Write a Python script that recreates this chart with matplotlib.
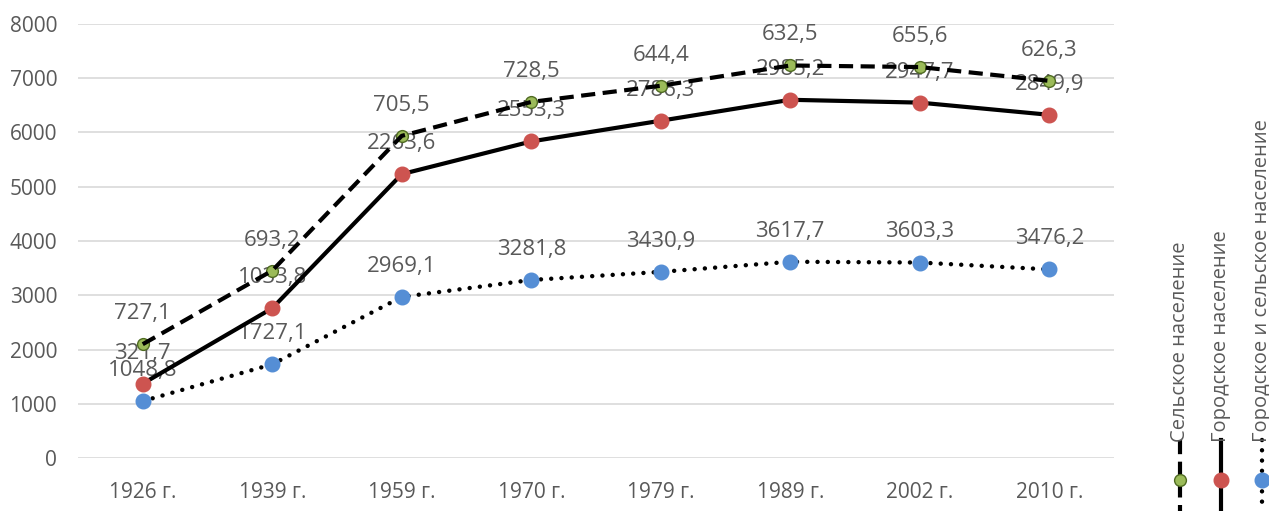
import numpy as np
import matplotlib
matplotlib.use("Agg")
import matplotlib.pyplot as plt
from matplotlib.lines import Line2D

# stacked line chart: each series is drawn on top of the previous one
years = ["1926 г.", "1939 г.", "1959 г.", "1970 г.", "1979 г.", "1989 г.", "2002 г.", "2010 г."]
base = [1048.8, 1727.1, 2969.1, 3281.8, 3430.9, 3617.7, 3603.3, 3476.2]
urban = [321.7, 1033.8, 2263.6, 2553.3, 2786.3, 2985.2, 2947.7, 2849.9]
rural = [727.1, 693.2, 705.5, 728.5, 644.4, 632.5, 655.6, 626.3]
names = ["Сельское население", "Городское население", "Городское и сельское население"]

plt.rcParams["font.family"] = ["Open Sans", "DejaVu Sans"]
gray = "#595959"

fig = plt.figure(figsize=(12.69, 5.11), dpi=100)
ax = fig.add_axes([78 / 1269, 53 / 511, (1114 - 78) / 1269, (458 - 24) / 511])

x = np.arange(len(years))
s1 = np.array(base)
s2 = s1 + np.array(urban)
s3 = s2 + np.array(rural)

dotted = (0, (0.01, 2.3))
dashed = (0, (3.4, 1.8))

ax.plot(x, s1, color="black", lw=3.2, linestyle=dotted, dash_capstyle="round", zorder=3)
ax.plot(x, s1, linestyle="none", marker="o", ms=10.5, mfc="#558ED5", mec="#558ED5", zorder=4)
ax.plot(x, s2, color="black", lw=3, zorder=3)
ax.plot(x, s2, linestyle="none", marker="o", ms=10.5, mfc="#CD5450", mec="#CD5450", zorder=4)
ax.plot(x, s3, linestyle="none", marker="o", ms=8.5, mfc="#9BBB59", mec="#4f6b22", mew=1, zorder=3)
ax.plot(x, s3, color="black", lw=3, linestyle=dashed, dash_capstyle="butt", zorder=4)

for tops, vals in [(s1, base), (s2, urban), (s3, rural)]:
    for xi, yi, v in zip(x, tops, vals):
        ax.annotate(f"{v:.1f}".replace(".", ","), (xi, yi), xytext=(0, 22),
                    textcoords="offset points", ha="center", va="center",
                    fontsize=16, color=gray, zorder=2)

ax.set_xlim(-0.5, len(years) - 0.5)
ax.set_ylim(0, 8000)
ax.set_yticks(np.arange(0, 8001, 1000))
ax.set_xticks(x)
ax.set_xticklabels(years)
ax.tick_params(axis="both", length=0, colors=gray, labelsize=15)
ax.tick_params(axis="x", pad=17)
ax.tick_params(axis="y", pad=15)
ax.grid(axis="y", color="#d9d9d9", lw=1.2)
ax.set_axisbelow(True)
for sp in ax.spines.values():
    sp.set_visible(False)

# vertical legend on the right
leg_x = [1180, 1221, 1262]
leg_styles = [
    dict(color="black", lw=3, linestyle=dashed, dash_capstyle="butt"),
    dict(color="black", lw=3),
    dict(color="black", lw=3.2, linestyle=dotted, dash_capstyle="round"),
]
leg_marks = [
    dict(marker="o", ms=8.5, mfc="#9BBB59", mec="#4f6b22", mew=1),
    dict(marker="o", ms=10.5, mfc="#CD5450", mec="#CD5450"),
    dict(marker="o", ms=10.5, mfc="#558ED5", mec="#558ED5"),
]
for px, name, st, mk in zip(leg_x, names, leg_styles, leg_marks):
    fx = px / 1269
    fig.add_artist(Line2D([fx, fx], [(511 - 440) / 511, 0], transform=fig.transFigure, **st))
    fig.add_artist(Line2D([fx], [(511 - 480) / 511], transform=fig.transFigure,
                          linestyle="none", zorder=5, **mk))
    fig.text(fx, (511 - 442) / 511, name, rotation=90, ha="center", va="bottom",
             fontsize=14.5, color=gray)

fig.savefig("out.png", dpi=100)
